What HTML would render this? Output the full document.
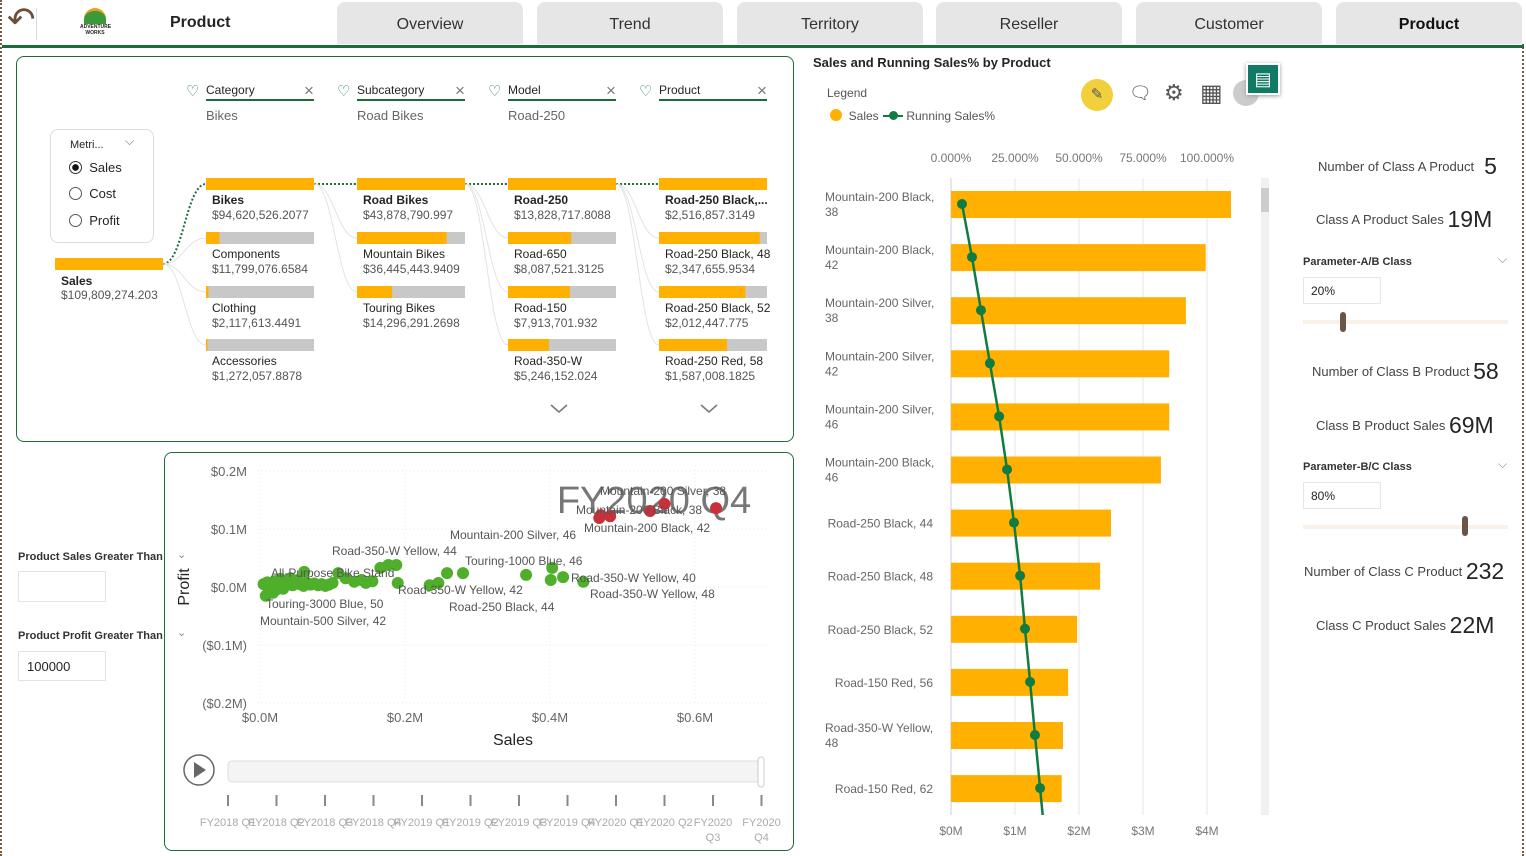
<!DOCTYPE html>
<html><head><meta charset="utf-8">
<style>
*{box-sizing:border-box;margin:0;padding:0}
body{width:1526px;height:856px;background:#fff;font-family:"Liberation Sans",sans-serif;color:#252423;position:relative;overflow:hidden}
.abs{position:absolute}
.tab{position:absolute;top:2px;height:42px;width:186px;background:#e6e6e6;border-radius:8px 8px 0 0;font-size:16px;color:#333;text-align:center;line-height:46px}
.box{position:absolute;border:1px solid #1e6b3a;border-radius:8px;background:#fff}
.t{position:absolute;white-space:nowrap}
svg text{font-family:"Liberation Sans",sans-serif}
</style></head><body>
<div class="abs" style="left:0;top:0;width:2px;height:856px;border-left:2px dotted #7a5a40"></div>
<div class="abs" style="left:1522px;top:44px;width:2px;height:812px;border-left:2px dotted #7a5a40"></div>
<div class="t" style="left:7px;top:0px;font-size:34px;color:#6b4f3a">↶</div>
<div class="abs" style="left:36px;top:8px;width:1px;height:32px;background:#ddd"></div>
<div class="abs" style="left:80px;top:8px;width:30px;height:32px;">
<div style="width:22px;height:16px;margin:0 auto;border-radius:11px 11px 0 0;background:#3a9a3a;border-top:3px solid #e9a11c"></div>
<div style="font-size:5px;text-align:center;font-weight:bold;color:#222">ADVENTURE WORKS</div></div>
<div class="t" style="left:170px;top:14px;font-size:16px;font-weight:bold">Product</div>
<div class="tab" style="left:337px">Overview</div>
<div class="tab" style="left:537px">Trend</div>
<div class="tab" style="left:737px">Territory</div>
<div class="tab" style="left:936px">Reseller</div>
<div class="tab" style="left:1136px">Customer</div>
<div class="tab" style="left:1336px;font-weight:bold;color:#111">Product</div>
<div class="abs" style="left:2px;top:45px;width:1522px;height:3px;background:#1e6b3a"></div>

<!-- Decomposition tree -->
<div class="box" style="left:16px;top:56px;width:778px;height:386px"></div>
<div class="abs" style="left:50px;top:129px;width:104px;height:114px;border:1px solid #ddd;border-radius:8px;background:#fff">
<div class="t" style="left:19px;top:9px;font-size:11px">Metri...</div><div class="t" style="left:74px;top:4px;font-size:12px;color:#777">⌵</div>
<div class="t" style="left:18px;top:30px;font-size:13px"><span style="display:inline-block;width:13px;height:13px;border:1px solid #333;border-radius:50%;vertical-align:-2px;background:radial-gradient(#111 40%,#fff 45%)"></span>&nbsp; Sales</div>
<div class="t" style="left:18px;top:56px;font-size:13px"><span style="display:inline-block;width:13px;height:13px;border:1px solid #555;border-radius:50%;vertical-align:-2px"></span>&nbsp; Cost</div>
<div class="t" style="left:18px;top:83px;font-size:13px"><span style="display:inline-block;width:13px;height:13px;border:1px solid #555;border-radius:50%;vertical-align:-2px"></span>&nbsp; Profit</div>
</div>
<svg class="abs" style="left:0;top:0" width="800" height="450" id="decomp"></svg>

<!-- Scatter -->
<div class="box" style="left:164px;top:452px;width:630px;height:399px"></div>
<div class="t" style="left:18px;top:551px;font-size:11px;font-weight:bold;color:#333">Product Sales Greater Than</div>
<div class="abs" style="left:18px;top:571px;width:88px;height:31px;border:1px solid #e3e3e3"></div>
<div class="t" style="left:18px;top:630px;font-size:11px;font-weight:bold;color:#333">Product Profit Greater Than</div>
<div class="abs" style="left:18px;top:651px;width:88px;height:30px;border:1px solid #e3e3e3;font-size:13px;padding:7px 8px">100000</div>
<svg class="abs" style="left:0;top:0" width="800" height="856" id="scatter"></svg>

<!-- Bar chart -->
<div class="t" style="left:813px;top:55px;font-size:13px;font-weight:bold">Sales and Running Sales% by Product</div>
<div class="t" style="left:827px;top:86px;font-size:12px;color:#555">Legend</div>
<div class="t" style="left:830px;top:109px;font-size:12px;color:#555"><span style="display:inline-block;width:12px;height:12px;border-radius:50%;background:#ffb000;vertical-align:-1px"></span>&nbsp; Sales</div>
<div class="t" style="left:883px;top:109px;font-size:12px;color:#555"><span style="display:inline-block;width:20px;height:2px;background:#107c41;vertical-align:3px;position:relative"><span style="position:absolute;left:6px;top:-4px;width:9px;height:9px;border-radius:50%;background:#107c41"></span></span> Running Sales%</div>
<div class="abs" style="left:1081px;top:79px;width:32px;height:32px;border-radius:50%;background:#f2d03b;text-align:center;line-height:32px;font-size:15px;color:#555">✎</div>
<div class="t" style="left:1129px;top:83px;font-size:18px;color:#555">🗨</div>
<div class="t" style="left:1164px;top:80px;font-size:22px;color:#555">⚙</div>
<div class="t" style="left:1200px;top:79px;font-size:24px;color:#555">▦</div>
<div class="abs" style="left:1233px;top:80px;width:26px;height:26px;border-radius:50%;background:#ccc"></div>
<div class="abs" style="left:1246px;top:63px;width:34px;height:32px;background:#117a65;border:2px solid #fff;box-shadow:0 1px 4px #999;color:#fff;text-align:center;font-size:18px;line-height:28px">▤</div>
<svg class="abs" style="left:800px;top:140px" width="480" height="716" id="bars"></svg>

<!-- Right KPI panel -->
<div class="t" style="left:1318px;top:153px;font-size:13px;color:#444">Number of Class A Product <span style="font-size:23px;color:#252423;vertical-align:-3px">&nbsp;5</span></div>
<div class="t" style="left:1316px;top:206px;font-size:13px;color:#444">Class A Product Sales <span style="font-size:23px;color:#252423;vertical-align:-3px">19M</span></div>
<div class="t" style="left:1303px;top:256px;font-size:11px;font-weight:bold;color:#333">Parameter-A/B Class</div>
<div class="t" style="left:1498px;top:252px;font-size:12px;color:#888">⌵</div>
<div class="abs" style="left:1303px;top:277px;width:78px;height:27px;border:1px solid #e6e6e6;font-size:12px;padding:6px 7px">20%</div>
<div class="abs" style="left:1303px;top:320px;width:205px;height:4px;background:#f7f1e8"></div>
<div class="abs" style="left:1340px;top:312px;width:6px;height:20px;border-radius:3px;background:#6b5443"></div>
<div class="t" style="left:1312px;top:358px;font-size:13px;color:#444">Number of Class B Product <span style="font-size:23px;color:#252423;vertical-align:-3px">58</span></div>
<div class="t" style="left:1316px;top:412px;font-size:13px;color:#444">Class B Product Sales <span style="font-size:23px;color:#252423;vertical-align:-3px">69M</span></div>
<div class="t" style="left:1303px;top:461px;font-size:11px;font-weight:bold;color:#333">Parameter-B/C Class</div>
<div class="t" style="left:1498px;top:457px;font-size:12px;color:#888">⌵</div>
<div class="abs" style="left:1303px;top:482px;width:78px;height:27px;border:1px solid #e6e6e6;font-size:12px;padding:6px 7px">80%</div>
<div class="abs" style="left:1303px;top:525px;width:205px;height:4px;background:#f7f1e8"></div>
<div class="abs" style="left:1462px;top:516px;width:6px;height:20px;border-radius:3px;background:#6b5443"></div>
<div class="t" style="left:1304px;top:558px;font-size:13px;color:#444">Number of Class C Product <span style="font-size:23px;color:#252423;vertical-align:-3px">232</span></div>
<div class="t" style="left:1316px;top:612px;font-size:13px;color:#444">Class C Product Sales <span style="font-size:23px;color:#252423;vertical-align:-3px">22M</span></div>

<script>
const NS='http://www.w3.org/2000/svg';
function mk(p,tag,a,txt){const e=document.createElementNS(NS,tag);for(const k in a)e.setAttribute(k,a[k]);if(txt!==undefined)e.textContent=txt;p.appendChild(e);return e;}

// ---------- Decomposition tree data ----------
const levelHeaders=['Category','Subcategory','Model','Product'];
const levelSelected=['Bikes','Road Bikes','Road-250',''];
const lvl1Names=['Bikes','Components','Clothing','Accessories'];
const lvl1Values=[94620526.2077,11799076.6584,2117613.4491,1272057.8878];
const lvl2Names=['Road Bikes','Mountain Bikes','Touring Bikes'];
const lvl2Values=[43878790.997,36445443.9409,14296291.2698];
const lvl3Names=['Road-250','Road-650','Road-150','Road-350-W'];
const lvl3Values=[13828717.8088,8087521.3125,7913701.932,5246152.024];
const lvl4Names=['Road-250 Black,...','Road-250 Black, 48','Road-250 Black, 52','Road-250 Red, 58'];
const lvl4Values=[2516857.3149,2347655.9534,2012447.775,1587008.1825];
const rootValue=109809274.203;
(function(){
 const s=document.getElementById('decomp');
 const fmt=v=>'$'+v.toLocaleString('en-US',{maximumFractionDigits:4});
 let r=mk(s,'rect',{x:55,y:258,width:108,height:12,fill:'#ffb000'});
 
 mk(s,'text',{x:61,y:285,'font-size':12,'font-weight':'bold',fill:'#252423'},'Sales');
 mk(s,'text',{x:61,y:299,'font-size':12,fill:'#555'},fmt(rootValue));
 const cols=[[lvl1Names,lvl1Values],[lvl2Names,lvl2Values],[lvl3Names,lvl3Values],[lvl4Names,lvl4Values]];
 const cx=[206,357,508,659], rowY=[178,232,286,339], W=108;
 cols.forEach((c,ci)=>{
  const x=cx[ci];
  const hd=mk(s,'text',{x:x,y:94,'font-size':12,fill:'#252423'},levelHeaders[ci]);
  
  mk(s,'text',{x:x-20,y:96,'font-size':15,fill:'#1e8a5a'},'♡');
  mk(s,'line',{x1:x,x2:x+108,y1:100,y2:100,stroke:'#1e6b3a','stroke-width':2});
  mk(s,'text',{x:x+98,y:96,'font-size':17,fill:'#777'},'×');
  if(levelSelected[ci])mk(s,'text',{x:x,y:120,'font-size':13,fill:'#666'},levelSelected[ci]);
  const mx=Math.max(...c[1]);
  const px=ci===0?163:cx[ci-1]+W;
  c[0].forEach((n,i)=>{
   const y=rowY[i];
   mk(s,'path',{d:`M${px} ${ci===0?264:184} C${px+20} ${ci===0?264:184},${x-20} ${y+6},${x} ${y+6}`,fill:'none',stroke:i===0?'#1e6b3a':'#e3e3e3','stroke-width':i===0?2:1,'stroke-dasharray':i===0?'2,2':'none'});
   mk(s,'rect',{x:x,y:y,width:W,height:12,fill:'#c8c8c8'});
   const b=mk(s,'rect',{x:x,y:y,width:W*c[1][i]/mx,height:12,fill:'#ffb000'});
   
   mk(s,'text',{x:x+6,y:y+26,'font-size':12,'font-weight':i===0?'bold':'normal',fill:'#252423'},n);
   mk(s,'text',{x:x+6,y:y+41,'font-size':12,fill:'#555'},fmt(c[1][i]));
  });
 });
 mk(s,'path',{d:'M551 405 L559 412 L567 405',fill:'none',stroke:'#777','stroke-width':1.5});
 mk(s,'path',{d:'M701 405 L709 412 L717 405',fill:'none',stroke:'#777','stroke-width':1.5});
})();

// ---------- Scatter data ----------
const xTicks=[0,0.2,0.4,0.6];
const xTickLabels=['$0.0M','$0.2M','$0.4M','$0.6M'];
const yTicks=[0.2,0.1,0,-0.1,-0.2];
const yTickLabels=['$0.2M','$0.1M','$0.0M','($0.1M)','($0.2M)'];
const greenSales=[0.258,0.280,0.367,0.403,0.401,0.418,0.446,0.234,0.246,0.188,0.177,0.166,0.190,0.130,0.146,0.108,0.061,
 0.005,0.010,0.015,0.020,0.025,0.030,0.035,0.040,0.045,0.050,0.055,0.060,0.065,0.070,0.075,0.080,0.085,0.090,0.095,0.100,0.012,0.022,0.032,0.042,0.052,0.118,0.140,0.155,0.008,0.018,0.028];
const greenProfit=[0.024,0.024,0.021,0.033,0.012,0.017,0.009,0.003,0.007,0.038,0.038,0.033,0.007,0.009,0.007,0.024,0.026,
 0.005,0.008,0.002,0.010,0.006,0.012,0.004,0.009,0.003,0.008,0.005,0.002,0.007,0.004,0.006,0.003,0.005,0.002,0.004,0.007,-0.008,-0.005,-0.003,0.015,0.012,0.015,0.012,0.010,-0.015,-0.010,0.014];
const redSales=[0.468,0.470,0.483,0.538,0.558,0.629];
const redProfit=[0.119,0.124,0.122,0.131,0.143,0.136];
const timelineLabels=['FY2018 Q1','FY2018 Q2','FY2018 Q3','FY2018 Q4','FY2019 Q1','FY2019 Q2','FY2019 Q3','FY2019 Q4','FY2020 Q1','FY2020 Q2','FY2020','FY2020'];
(function(){
 const s=document.getElementById('scatter');
 const X=v=>260+v*725, Y=v=>587-v*580;
 yTicks.forEach((t,i)=>{mk(s,'line',{x1:258,x2:770,y1:Y(t),y2:Y(t),stroke:'#e8e8e8','stroke-dasharray':'1,3'});
  mk(s,'text',{x:247,y:Y(t)+5,'font-size':13,fill:'#666','text-anchor':'end'},yTickLabels[i]);});
 xTicks.forEach((t,i)=>{mk(s,'line',{x1:X(t),x2:X(t),y1:465,y2:705,stroke:'#e8e8e8','stroke-dasharray':'1,3'});
  mk(s,'text',{x:X(t),y:722,'font-size':13,fill:'#666','text-anchor':'middle'},xTickLabels[i]);});
 mk(s,'text',{x:513,y:745,'font-size':16,fill:'#252423','text-anchor':'middle'},'Sales');
 mk(s,'text',{x:189,y:587,'font-size':16,fill:'#252423','text-anchor':'middle',transform:'rotate(-90 189 587)'},'Profit');
 mk(s,'text',{x:177,y:558,'font-size':11,fill:'#888'},'⌄');
 mk(s,'text',{x:177,y:636,'font-size':11,fill:'#888'},'⌄');
 mk(s,'text',{x:654,y:513,'font-size':38,fill:'#777','text-anchor':'middle'},'FY2020 Q4');
 greenSales.forEach((v,i)=>{const c=mk(s,'circle',{cx:X(v),cy:Y(greenProfit[i]),r:6,fill:'#4fae2a'});
  });
 redSales.forEach((v,i)=>{const c=mk(s,'circle',{cx:X(v),cy:Y(redProfit[i]),r:6,fill:'#c7313a'});
  });
 const labs=[[600,495,'Mountain-200 Silver, 38'],[576,514,'Mountain-200 Black, 38'],[584,532,'Mountain-200 Black, 42'],[450,539,'Mountain-200 Silver, 46'],[332,555,'Road-350-W Yellow, 44'],[465,565,'Touring-1000 Blue, 46'],[271,577,'All-Purpose Bike Stand'],[571,582,'Road-350-W Yellow, 40'],[398,594,'Road-350-W Yellow, 42'],[590,598,'Road-350-W Yellow, 48'],[266,608,'Touring-3000 Blue, 50'],[449,611,'Road-250 Black, 44'],[260,625,'Mountain-500 Silver, 42']];
 labs.forEach(l=>mk(s,'text',{x:l[0],y:l[1],'font-size':12,fill:'#555'},l[2]));
 const p=mk(s,'circle',{cx:199,cy:770,r:15,fill:'#fff',stroke:'#666','stroke-width':1.5});
 
 mk(s,'path',{d:'M194 762 L206 770 L194 778Z',fill:'#666'});
 const tr=mk(s,'rect',{x:228,y:761,width:534,height:21,rx:4,fill:'#f4f4f4',stroke:'#ddd'});
 
 mk(s,'rect',{x:758,y:757,width:6,height:30,rx:3,fill:'#fff',stroke:'#ccc'});
 timelineLabels.forEach((l,i)=>{const x=228+i*48.5;
  mk(s,'line',{x1:x,x2:x,y1:795,y2:806,stroke:'#888','stroke-width':2});
  mk(s,'text',{x:x,y:826,'font-size':11,fill:'#aaa','text-anchor':'middle'},l);
  if(i>=10)mk(s,'text',{x:x,y:841,'font-size':11,fill:'#aaa','text-anchor':'middle'},i===10?'Q3':'Q4');});
})();

// ---------- Bar chart data ----------
const barCategories=[['Mountain-200 Black,','38'],['Mountain-200 Black,','42'],['Mountain-200 Silver,','38'],['Mountain-200 Silver,','42'],['Mountain-200 Silver,','46'],['Mountain-200 Black,','46'],['Road-250 Black, 44'],['Road-250 Black, 48'],['Road-250 Black, 52'],['Road-150 Red, 56'],['Road-350-W Yellow,','48'],['Road-150 Red, 62']];
const salesValues=[4.375,3.98,3.67,3.41,3.41,3.28,2.50,2.33,1.97,1.83,1.75,1.73];
const runningPct=[4.3,8.2,11.7,15.2,18.8,21.9,24.6,27.0,28.9,30.9,32.8,34.8];
const bottomTicks=[0,1,2,3,4];
const bottomTickLabels=['$0M','$1M','$2M','$3M','$4M'];
const topTicks=[0,25,50,75,100];
const topTickLabels=['0.000%','25.000%','50.000%','75.000%','100.000%'];
(function(){
 const s=document.getElementById('bars');
 const X=v=>151+v*64, P=v=>151+v*2.56, rowY=i=>64+i*53.1;
 bottomTicks.forEach((t,i)=>{mk(s,'line',{x1:X(t),x2:X(t),y1:38,y2:675,stroke:i===0?'#dde':'#eee','stroke-width':1.5});
  mk(s,'text',{x:X(t),y:695,'font-size':12,fill:'#777','text-anchor':'middle'},bottomTickLabels[i]);});
 topTicks.forEach((t,i)=>mk(s,'text',{x:P(t),y:22,'font-size':12,fill:'#777','text-anchor':'middle'},topTickLabels[i]));
 salesValues.forEach((v,i)=>{const b=mk(s,'rect',{x:X(0),y:rowY(i)-13,width:X(v)-X(0),height:27,fill:'#ffb000'});
  
  const c=barCategories[i];
  if(c.length===2){mk(s,'text',{x:25,y:rowY(i)-3,'font-size':12,fill:'#666'},c[0]);mk(s,'text',{x:25,y:rowY(i)+12,'font-size':12,fill:'#666'},c[1]);}
  else mk(s,'text',{x:133,y:rowY(i)+5,'font-size':12,fill:'#666','text-anchor':'end'},c[0]);});
 let d=runningPct.map((v,i)=>(i?'L':'M')+P(v)+' '+rowY(i)).join(' ');
 const n=runningPct.length, slope=(P(runningPct[n-1])-P(runningPct[n-2]))/53.1;
 d+=' L'+(P(runningPct[n-1])+slope*(675-rowY(n-1)))+' 675';
 mk(s,'path',{d:d,fill:'none',stroke:'#107c41','stroke-width':2.5});
 runningPct.forEach((v,i)=>{const c=mk(s,'circle',{cx:P(v),cy:rowY(i),r:5,fill:'#107c41'});
  });
 const sb=mk(s,'rect',{x:461,y:38,width:8,height:637,fill:'#f1f1f1'});
 
 mk(s,'rect',{x:461,y:48,width:8,height:24,fill:'#ccc'});
})();
</script>
</body></html>
